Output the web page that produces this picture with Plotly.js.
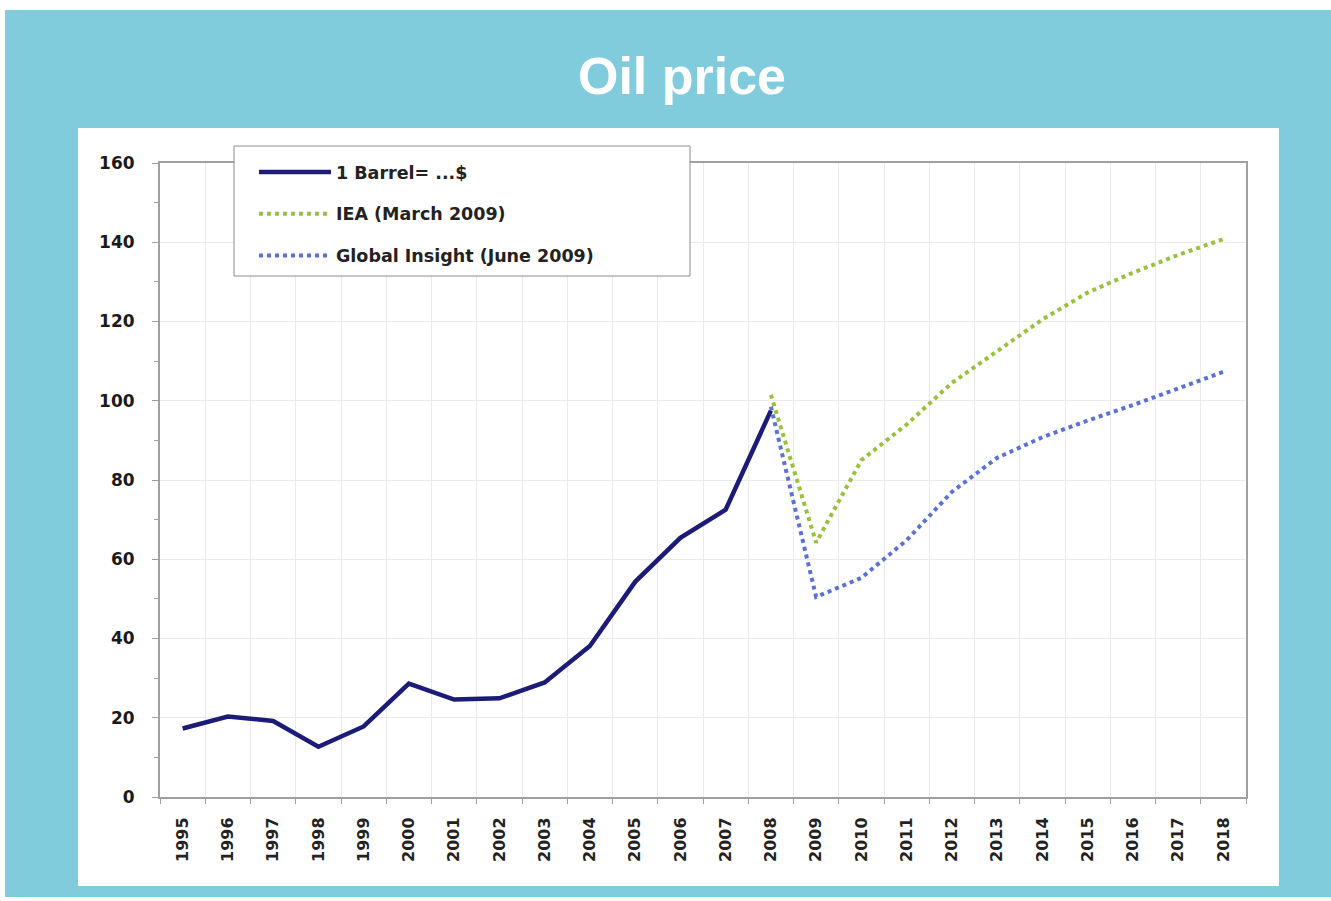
<!DOCTYPE html>
<html>
<head>
<meta charset="utf-8">
<script src="https://cdn.plot.ly/plotly-3.0.1.min.js"></script>
<style>html,body{margin:0;padding:0;background:#fff;}#chart{width:1331px;height:901px;}</style>
</head>
<body>
<div id="chart"></div>
<script>
const years = [1995,1996,1997,1998,1999,2000,2001,2002,2003,2004,2005,2006,2007,2008,2009,2010,2011,2012,2013,2014,2015,2016,2017,2018];
const yearLabels = years.map(String);

const histYears = [1995,1996,1997,1998,1999,2000,2001,2002,2003,2004,2005,2006,2007,2008];
const barrelPrice = [17.3,20.3,19.2,12.7,17.8,28.6,24.6,24.9,28.9,38.1,54.3,65.4,72.5,97.5];

const forecastYears = [2008,2009,2010,2011,2012,2013,2014,2015,2016,2017,2018];
const ieaForecast = [101.5,64.2,85.0,94.0,104.5,112.5,120.5,127.3,132.3,136.8,140.8];
const globalInsightForecast = [98.5,50.5,55.3,64.8,77.0,85.6,90.8,95.0,98.9,103.2,107.3];

const seriesNames = ['1 Barrel= ...$','IEA (March 2009)','Global Insight (June 2009)'];
const yTicks = [0,20,40,60,80,100,120,140,160];

const traces = [
  {x: histYears, y: barrelPrice, name: seriesNames[0], type:'scatter', mode:'lines',
   line:{color:'#1c1c78', width:4.5}, legendgroup:'a'},
  {x: forecastYears, y: ieaForecast, name: seriesNames[1], type:'scatter', mode:'lines',
   line:{color:'#98c23c', width:4, dash:'dot'}, legendgroup:'b'},
  {x: forecastYears, y: globalInsightForecast, name: seriesNames[2], type:'scatter', mode:'lines',
   line:{color:'#5a72d4', width:4, dash:'dot'}, legendgroup:'c'}
];

const L = 160, R = 1246, T = 163, B = 797, W = 1331, H = 901;
const px = v => (v - L) / (R - L);
const py = v => (B - v) / (B - T);

const layout = {
  width: W, height: H,
  paper_bgcolor: '#ffffff',
  plot_bgcolor: '#ffffff',
  margin: {l: L, r: W - R, t: T, b: H - B, pad: 0},
  title: {
    text: '<b>Oil price</b>',
    font: {family: 'Liberation Sans, Arial, sans-serif', size: 52, color: '#ffffff'},
    x: 682 / W, xref: 'container', xanchor: 'center',
    y: 1 - 76 / H, yref: 'container', yanchor: 'middle'
  },
  showlegend: true,
  legend: {
    x: px(254), xanchor: 'left', y: py(154), yanchor: 'top',
    bgcolor: 'rgba(0,0,0,0)', borderwidth: 0,
    font: {family: 'DejaVu Sans, sans-serif', size: 17.5, color: '#222222', weight: 'bold'},
    itemwidth: 72, tracegroupgap: 16, traceorder: 'grouped'
  },
  xaxis: {
    range: [1994.5, 2018.5],
    tickmode: 'array', tickvals: years, ticktext: yearLabels,
    tickangle: -90,
    tickfont: {family: 'DejaVu Sans, sans-serif', size: 16, color: '#222222', weight: 'bold'},
    ticks: '', showgrid: false, zeroline: false,
    showline: true, linecolor: '#a0a0a0', linewidth: 2, mirror: true,
    ticklabelstandoff: 12,
    minor: {tick0: 1994.5, dtick: 1, ticks: 'outside', ticklen: 5, tickcolor: '#a0a0a0', tickwidth: 1,
            showgrid: true, gridcolor: '#ebebeb', gridwidth: 1},
    fixedrange: true
  },
  yaxis: {
    range: [0, 160],
    tickmode: 'array', tickvals: yTicks,
    tickfont: {family: 'DejaVu Sans, sans-serif', size: 17, color: '#1a1a1a', weight: 'bold'},
    ticks: 'outside', ticklen: 6, tickcolor: '#a0a0a0', tickwidth: 1,
    ticklabelstandoff: 14,
    showgrid: true, gridcolor: '#ebebeb', gridwidth: 1, zeroline: false,
    showline: true, linecolor: '#a0a0a0', linewidth: 2, mirror: true,
    minor: {dtick: 10, ticks: 'outside', ticklen: 4, tickcolor: '#a0a0a0', showgrid: false},
    fixedrange: true
  },
  shapes: [
    {type:'rect', xref:'paper', yref:'paper', layer:'below',
     x0: px(5), x1: px(1331), y0: py(897), y1: py(10),
     fillcolor:'#80cbdc', line:{width:0}},
    {type:'rect', xref:'paper', yref:'paper', layer:'below',
     x0: px(78), x1: px(1279), y0: py(886), y1: py(128),
     fillcolor:'#ffffff', line:{width:0}},
    {type:'rect', xref:'paper', yref:'paper', layer:'above',
     x0: px(234), x1: px(690), y0: py(276), y1: py(146),
     fillcolor:'#ffffff', line:{color:'#8c8c8c', width:1}}
  ]
};

Plotly.newPlot('chart', traces, layout, {displayModeBar: false, staticPlot: true});
</script>
</body>
</html>
